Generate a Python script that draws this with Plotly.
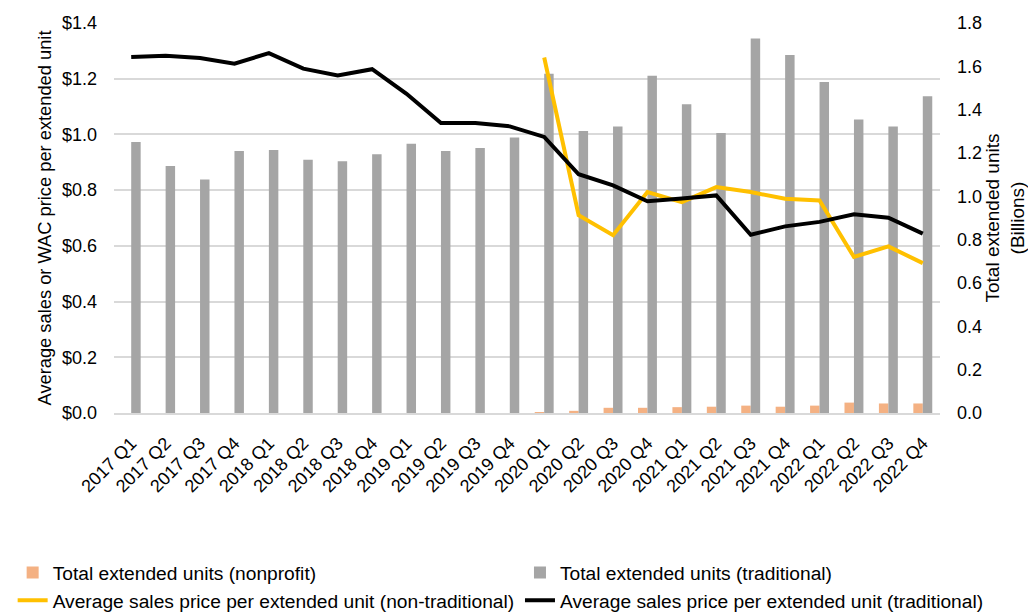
import plotly.graph_objects as go

quarters = [f"{y} Q{q}" for y in range(2017, 2023) for q in range(1, 5)]

# Total extended units, billions (right axis)
units_traditional = [1.251, 1.140, 1.078, 1.209, 1.214, 1.169, 1.162, 1.194,
                     1.243, 1.209, 1.223, 1.272, 1.566, 1.302, 1.322, 1.557,
                     1.425, 1.292, 1.729, 1.652, 1.528, 1.355, 1.322, 1.462]
units_nonprofit = [None] * 12 + [0.003, 0.010, 0.024, 0.024, 0.027, 0.029,
                                 0.034, 0.029, 0.034, 0.048, 0.044, 0.044]

# Average sales price per extended unit, dollars (left axis)
price_traditional = [1.278, 1.282, 1.274, 1.254, 1.292, 1.236, 1.212, 1.234,
                     1.146, 1.041, 1.041, 1.029, 0.991, 0.857, 0.817, 0.760,
                     0.770, 0.781, 0.640, 0.670, 0.686, 0.713, 0.701, 0.644]
price_nontraditional = [None] * 12 + [1.276, 0.710, 0.638, 0.793, 0.757, 0.811,
                                      0.793, 0.769, 0.763, 0.560, 0.598, 0.538]

FONT = "Liberation Sans"

fig = go.Figure()
# Left legend column: nonprofit bars, non-traditional price line
# Right legend column: traditional bars, traditional price line
fig.add_trace(go.Bar(
    x=quarters, y=units_nonprofit, name="Total extended units (nonprofit)",
    marker=dict(color="#F4B183", line=dict(width=0)), yaxis="y",
    legend="legend", legendgroup="a"))
fig.add_trace(go.Bar(
    x=quarters, y=units_traditional, name="Total extended units (traditional)",
    marker=dict(color="#A5A5A5", line=dict(width=0)), yaxis="y",
    legend="legend2", legendgroup="b"))
fig.add_trace(go.Scatter(
    x=quarters, y=price_nontraditional, mode="lines",
    name="Average sales price per extended unit (non-traditional)",
    line=dict(color="#FFC000", width=4), yaxis="y2",
    legend="legend", legendgroup="c"))
fig.add_trace(go.Scatter(
    x=quarters, y=price_traditional, mode="lines",
    name="Average sales price per extended unit (traditional)",
    line=dict(color="#000000", width=4), yaxis="y2",
    legend="legend2", legendgroup="d"))

legend_common = dict(orientation="v", yanchor="top", y=-0.36, xanchor="left",
                     font=dict(size=19.2, family=FONT), traceorder="normal",
                     tracegroupgap=5, bgcolor="rgba(0,0,0,0)")

fig.update_layout(
    width=1028, height=613,
    margin=dict(l=113.5, r=87.5, t=22.7, b=200.4, autoexpand=False),
    paper_bgcolor="white", plot_bgcolor="white",
    font=dict(family=FONT, size=18, color="#000000"),
    barmode="group", bargap=0.45, bargroupgap=0,
    showlegend=True,
    legend=dict(x=-0.1227, **legend_common),
    legend2=dict(x=0.4915, **legend_common),
    xaxis=dict(type="category", tickangle=-45, showline=True, linecolor="#D9D9D9",
               linewidth=1.5, ticks="", showgrid=False, tickfont=dict(size=18),
               ticklabelstandoff=11),
    yaxis=dict(side="right", range=[0, 1.8], dtick=0.2, tickformat=".1f",
               showgrid=False, zeroline=False, showline=False, ticks="",
               ticklabelstandoff=16, automargin=False,
               title=dict(text="Total extended units<br>(Billions)", standoff=12,
                          font=dict(size=19))),
    yaxis2=dict(overlaying="y", side="left", range=[0, 1.4], dtick=0.2,
                tickformat="$.1f", showgrid=True, gridcolor="#D9D9D9", gridwidth=1.5,
                zeroline=False, showline=False, ticks="", ticklabelstandoff=16,
                automargin=False,
                title=dict(text="Average sales or WAC price per extended unit",
                           standoff=5, font=dict(size=18.3))),
)

fig.write_html("out.html")
